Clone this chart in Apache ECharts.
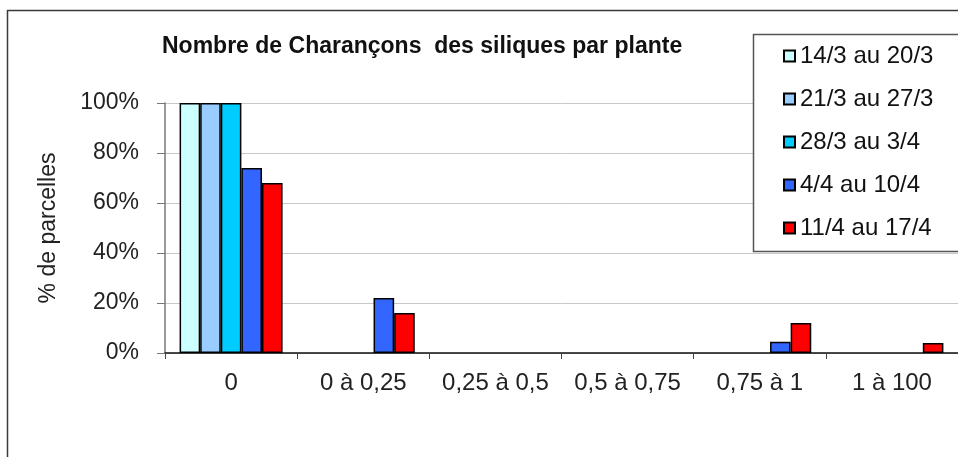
<!DOCTYPE html>
<html>
<head>
<meta charset="utf-8">
<title>Charançons des siliques</title>
<script src="https://cdn.jsdelivr.net/npm/echarts@6/dist/echarts.min.js"></script>
<style>
  html, body { margin: 0; padding: 0; background: #fff; }
  #chart { width: 958px; height: 457px; }
</style>
</head>
<body>
<div id="chart"></div>
<script>
// categories (nombre de charançons par plante)
var categories = ["0", "0 à 0,25", "0,25 à 0,5", "0,5 à 0,75", "0,75 à 1", "1 à 100"];

// one array per week, % de parcelles
var week1 = [100, 0, 0, 0, 0, 0];   // 14/3 au 20/3
var week2 = [100, 0, 0, 0, 0, 0];   // 21/3 au 27/3
var week3 = [100, 0, 0, 0, 0, 0];   // 28/3 au 3/4
var week4 = [74, 22, 0, 0, 4.5, 0]; // 4/4 au 10/4
var week5 = [68, 16, 0, 0, 12, 4];  // 11/4 au 17/4

var weekNames = ["14/3 au 20/3", "21/3 au 27/3", "28/3 au 3/4", "4/4 au 10/4", "11/4 au 17/4"];
var weekColors = ["#CCFFFF", "#99CCFF", "#00CCFF", "#3366FF", "#FF0000"];
var yTicks = [0, 20, 40, 60, 80, 100];

var font = "Liberation Sans, Arial, sans-serif";
var allWeeks = [week1, week2, week3, week4, week5];

var sery = [];
for (var i = 0; i < allWeeks.length; i++) {
  // zero -> no bar at all (otherwise the border draws a flat line)
  var vals = allWeeks[i].map(function (v) { return v === 0 ? "-" : v; });
  sery.push({
    name: weekNames[i],
    type: "bar",
    data: vals,
    barWidth: 20.6,
    barGap: "0%",
    itemStyle: {
      color: weekColors[i],
      borderColor: "#000",
      borderWidth: 1.5
    }
  });
}

var chart = echarts.init(document.getElementById("chart"));
chart.setOption({
  animation: false,
  title: {
    text: "Nombre de Charançons  des siliques par plante",
    left: 162,
    top: 35,
    padding: 0,
    textStyle: { fontFamily: font, fontSize: 23, fontWeight: "bold", color: "#111" }
  },
  legend: {
    orient: "vertical",
    left: 783,
    top: 44,
    padding: 0,
    z: 100,
    itemWidth: 11,
    itemHeight: 11,
    itemGap: 19,
    icon: "rect",
    data: weekNames,
    textStyle: { fontFamily: font, fontSize: 24, lineHeight: 24, color: "#111" }
  },
  // outer frame and legend box
  graphic: [
    {
      type: "rect",
      z: 1,
      shape: { x: 7.5, y: 10.5, width: 1000, height: 500 },
      style: { fill: "none", stroke: "#3a3a3a", lineWidth: 1.5 }
    },
    {
      type: "rect",
      z: 50,
      shape: { x: 753.5, y: 34.5, width: 300, height: 217 },
      style: { fill: "#fff", stroke: "#555", lineWidth: 1.5 }
    }
  ],
  grid: {
    left: 165,
    top: 103,
    width: 793,
    height: 250
  },
  xAxis: {
    type: "category",
    data: categories,
    axisLine: { lineStyle: { color: "#111", width: 1.5 } },
    axisTick: { show: true, length: 6, interval: 0, lineStyle: { color: "#444" } },
    axisLabel: { interval: 0, margin: 18, fontFamily: font, fontSize: 24, color: "#222" }
  },
  yAxis: {
    type: "value",
    min: yTicks[0],
    max: yTicks[yTicks.length - 1],
    interval: yTicks[1] - yTicks[0],
    name: "% de parcelles",
    nameLocation: "middle",
    nameRotate: 90,
    nameGap: 105,
    nameTextStyle: { fontFamily: font, fontSize: 23, color: "#222" },
    axisLine: { show: true, lineStyle: { color: "#777", width: 1.5 } },
    axisTick: { show: true, length: 8, lineStyle: { color: "#777" } },
    axisLabel: { margin: 26, fontFamily: font, fontSize: 23, color: "#222", formatter: "{value}%" },
    splitLine: { lineStyle: { color: "#c8c8c8" } }
  },
  series: sery
});
</script>
</body>
</html>
